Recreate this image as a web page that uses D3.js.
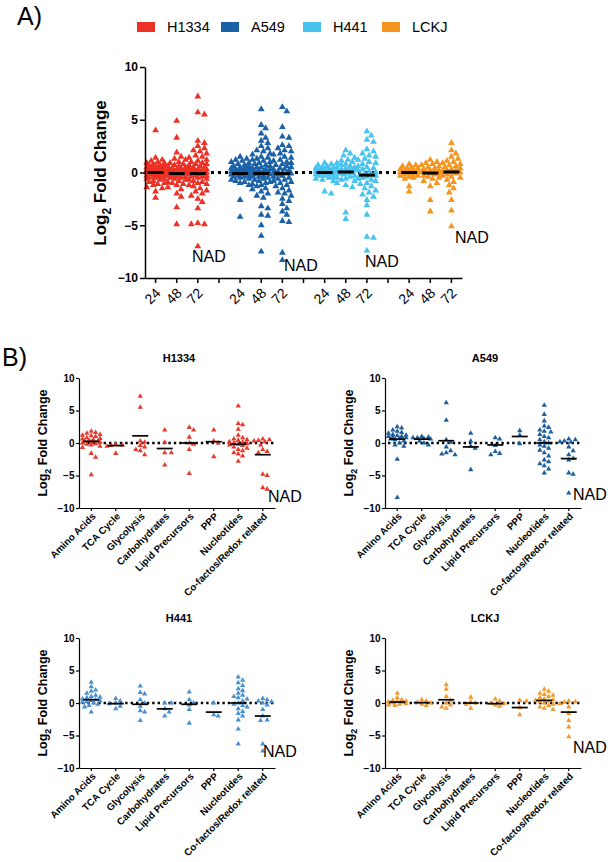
<!DOCTYPE html>
<html><head><meta charset="utf-8">
<script src="https://cdn.jsdelivr.net/npm/d3@7"></script>
<style>body{margin:0;background:#fff} svg{font-family:"Liberation Sans",Arial,Helvetica,sans-serif}</style>
</head><body>
<svg id="c" width="611" height="862"></svg>
<script>
// ---------------- DATA ----------------
const cellLines = ["H1334","A549","H441","LCKJ"];
const timepoints = ["24","48","72"];
const colorsA = ["#ed3124","#1a61a8","#47c3ee","#f5951f"];
const colorsB = ["#e8392b","#1b5e9b","#4a90cf","#f29a2e"];
const yTicks = [10,5,0,-5,-10];
const categories = ["Amino Acids","TCA Cycle","Glycolysis","Carbohydrates","Lipid Precursors","PPP","Nucleotides","Co-factos/Redox related"];

// Panel A: log2 fold change per metabolite, per cell line and time point (h)
const h1334_24 = [4.0,1.4,1.2,1.1,1.0,0.9,0.9,0.8,0.7,0.7,0.6,0.6,0.5,0.5,0.5,0.4,0.4,0.3,0.3,0.3,0.2,0.2,0.2,0.2,0.1,0.1,0.1,0.1,0.0,0.0,0.0,0.0,0.0,-0.1,-0.1,-0.1,-0.1,-0.2,-0.2,-0.2,-0.3,-0.3,-0.3,-0.4,-0.4,-0.5,-0.5,-0.6,-0.6,-0.7,-0.8,-0.9,-1.0,-1.1,-1.2,-1.4,-1.5,-1.8,-2.4];
const h1334_48 = [4.9,3.3,1.9,1.5,1.3,1.2,1.0,0.9,0.8,0.7,0.6,0.6,0.5,0.4,0.4,0.3,0.3,0.2,0.2,0.1,0.1,0.1,0.0,0.0,0.0,-0.1,-0.1,-0.1,-0.2,-0.2,-0.2,-0.3,-0.3,-0.4,-0.4,-0.5,-0.5,-0.6,-0.7,-0.8,-0.9,-1.0,-1.1,-1.2,-1.4,-1.6,-2.0,-2.3,-3.3,-4.9];
const h1334_72 = [7.2,5.7,5.5,3.0,2.8,2.5,2.3,2.1,2.0,1.8,1.6,1.5,1.4,1.2,1.1,1.0,0.9,0.8,0.8,0.7,0.6,0.5,0.5,0.4,0.3,0.3,0.2,0.2,0.1,0.1,0.0,0.0,0.0,-0.1,-0.1,-0.1,-0.2,-0.2,-0.3,-0.3,-0.4,-0.4,-0.5,-0.6,-0.7,-0.8,-0.9,-1.0,-1.1,-1.2,-1.3,-1.5,-1.7,-1.8,-2.0,-2.2,-2.5,-2.8,-3.4,-4.8,-4.9,-4.9,-7.0];
const a549_24 = [1.5,1.3,1.2,1.1,1.0,0.9,0.8,0.7,0.6,0.6,0.5,0.4,0.4,0.3,0.3,0.2,0.2,0.1,0.1,0.1,0.0,0.0,0.0,-0.1,-0.1,-0.1,-0.2,-0.2,-0.3,-0.3,-0.4,-0.4,-0.5,-0.6,-0.7,-0.8,-0.9,-1.0,-1.2,-2.6,-4.2];
const a549_48 = [6.0,4.5,4.2,3.7,3.3,3.0,2.8,2.5,2.3,2.1,2.0,1.8,1.7,1.5,1.4,1.3,1.2,1.1,1.0,0.9,0.8,0.7,0.6,0.5,0.5,0.4,0.3,0.3,0.2,0.1,0.1,0.0,0.0,0.0,-0.1,-0.1,-0.2,-0.2,-0.3,-0.4,-0.4,-0.5,-0.6,-0.7,-0.8,-0.9,-1.0,-1.1,-1.2,-1.3,-1.5,-1.6,-1.8,-2.0,-2.2,-2.4,-3.2,-3.4,-4.0,-4.1,-5.0,-6.0,-7.5];
const a549_72 = [6.2,5.8,4.3,3.4,3.3,2.6,2.5,2.3,2.1,2.0,1.8,1.7,1.5,1.4,1.2,1.1,1.0,0.9,0.8,0.7,0.6,0.5,0.4,0.3,0.3,0.2,0.1,0.0,0.0,-0.1,-0.1,-0.2,-0.3,-0.4,-0.5,-0.6,-0.7,-0.8,-0.9,-1.0,-1.2,-1.3,-1.5,-1.7,-1.9,-2.0,-2.2,-2.5,-2.7,-3.0,-3.4,-3.7,-4.0,-4.6,-4.7,-7.6,-8.3];
const h441_24 = [0.9,0.8,0.7,0.6,0.5,0.5,0.4,0.4,0.3,0.3,0.2,0.2,0.1,0.1,0.1,0.0,0.0,0.0,0.0,-0.1,-0.1,-0.1,-0.2,-0.2,-0.3,-0.3,-0.4,-0.5,-0.6,-0.7,-0.8,-1.8,-2.0];
const h441_48 = [2.1,1.8,1.6,1.4,1.2,1.1,1.0,0.9,0.8,0.7,0.6,0.5,0.5,0.4,0.3,0.3,0.2,0.1,0.1,0.0,0.0,0.0,-0.1,-0.1,-0.2,-0.3,-0.4,-0.5,-0.6,-0.7,-0.8,-1.0,-1.2,-1.4,-3.8,-4.4];
const h441_72 = [3.9,3.5,3.1,2.9,2.2,2.0,1.8,1.6,1.5,1.3,1.2,1.0,0.9,0.8,0.6,0.5,0.4,0.3,0.2,0.1,0.0,-0.1,-0.2,-0.2,-0.3,-0.4,-0.5,-0.6,-0.7,-0.8,-1.0,-1.1,-1.3,-1.5,-1.7,-1.9,-2.1,-2.3,-2.6,-3.1,-4.0,-6.1,-6.2,-7.4];
const lckj_24 = [0.8,0.7,0.6,0.5,0.4,0.4,0.3,0.3,0.2,0.2,0.1,0.1,0.0,0.0,0.0,-0.1,-0.1,-0.2,-0.2,-0.3,-0.3,-0.4,-0.5,-0.6,-1.3,-1.8];
const lckj_48 = [1.2,1.0,0.9,0.8,0.7,0.6,0.5,0.4,0.3,0.2,0.2,0.1,0.0,0.0,-0.1,-0.1,-0.2,-0.3,-0.4,-0.5,-0.6,-0.8,-1.0,-1.3,-2.6,-3.7];
const lckj_72 = [2.8,2.1,1.8,1.5,1.3,1.1,1.0,0.9,0.8,0.7,0.6,0.5,0.4,0.3,0.2,0.2,0.1,0.0,0.0,-0.1,-0.2,-0.3,-0.4,-0.5,-0.7,-0.9,-1.2,-1.5,-1.9,-2.6,-3.6,-5.1];
const mediansA = [[0,-0.1,-0.1],[-0.1,-0.1,-0.1],[0,0.05,-0.25],[0,-0.05,0.05]];

// Panel B: per metabolite class
const h1334ByClass = [
  [1.8,1.6,1.5,1.3,1.2,1.1,1.0,0.8,0.7,0.6,0.5,0.4,0.3,0.3,0.2,0.1,0.0,-0.1,-0.2,-0.3,-0.5,-0.7,-1.6,-2.2,-4.9],
  [-0.2,-0.3,-0.4,-0.5,-1.6],
  [7.2,5.5,0.3,0.1,-0.4,-0.6,-1.0,-1.2,-1.8],
  [2.0,0.1,-1.5,-1.5,-3.4],
  [2.4,2.0,0.9,0.0,-0.2,-1.0,-4.7],
  [2.0,0.3,0.0,-2.1],
  [5.7,3.0,2.8,2.1,1.2,0.8,0.6,0.5,0.4,0.2,0.1,0.0,-0.1,-0.2,-0.3,-0.4,-0.6,-0.8,-1.0,-1.2,-1.5,-1.7,-2.0,-2.8],
  [0.6,0.5,0.4,0.3,0.2,-0.3,-1.0,-1.3,-1.5,-4.8,-5.0,-6.9,-7.1]
];
const a549ByClass = [
  [2.5,2.3,2.0,1.8,1.6,1.5,1.3,1.2,1.1,1.0,1.0,0.9,0.8,0.7,0.6,0.5,0.3,0.0,-0.3,-0.5,-2.5,-8.4],
  [1.0,0.9,0.8,0.8,0.7,0.6,0.3,0.0,-0.3],
  [6.2,3.5,0.5,0.1,-0.6,-1.2,-1.5,-1.7,-1.8],
  [1.5,0.3,-0.5,-0.8,-4.1],
  [0.8,0.6,-0.4,-1.3,-1.6,-1.8],
  [1.9,1.2,-0.1],
  [5.8,4.4,3.4,2.6,2.4,2.0,1.8,1.7,1.3,1.0,0.8,0.5,0.2,0.0,-0.3,-0.5,-0.8,-1.1,-1.5,-2.0,-2.6,-2.9,-3.2,-3.5,-4.0,-4.6],
  [0.6,0.5,0.3,0.2,0.1,-0.6,-1.2,-1.8,-2.4,-2.6,-4.6,-4.8,-7.7]
];
const h441ByClass = [
  [3.2,2.5,2.0,1.8,1.5,1.2,1.0,0.9,0.8,0.6,0.5,0.4,0.3,0.2,0.1,0.0,-0.2,-0.4,-0.6,-1.4],
  [0.7,0.3,0.0,-0.1,-0.5,-0.9],
  [2.6,1.6,1.4,0.5,0.0,-0.5,-1.2,-1.4,-2.7],
  [0.0,0.0,-0.9,-1.4,-2.0],
  [1.7,0.5,0.0,-0.3,-1.0,-3.1],
  [0.0,-1.8,-2.0],
  [4.0,3.5,3.1,2.7,2.2,1.9,1.5,1.2,1.0,0.8,0.6,0.3,0.0,-0.2,-0.4,-0.6,-0.9,-1.3,-1.6,-2.0,-2.6,-4.0,-6.3],
  [0.7,0.5,0.3,0.2,0.0,-0.3,-1.0,-2.0,-2.6,-2.7,-6.3,-7.4]
];
const lckjByClass = [
  [1.5,0.8,0.5,0.4,0.3,0.2,0.2,0.1,0.0,-0.1,-0.2,-0.3,-0.4],
  [0.5,0.3,0.1,0.0,-0.2,-0.4],
  [2.8,2.1,1.0,0.4,0.0,-0.3,-0.6,-0.8],
  [0.9,0.2,0.0,-0.2,-0.8],
  [0.6,0.3,0.0,-0.1,-0.3,-0.5],
  [0.4,0.3,-0.7,-1.8],
  [2.1,1.8,1.5,1.3,1.2,1.0,0.8,0.6,0.5,0.4,0.3,0.2,0.0,-0.2,-0.4,-0.6,-0.8,-1.0],
  [0.3,0.2,0.1,-0.1,-0.6,-1.6,-2.7,-3.7,-5.2]
];
const mediansB = [
  [0.25,-0.4,1.1,-0.85,0.0,0.2,-0.2,-1.8],
  [0.6,0.6,0.35,-0.6,-0.3,1.0,0.0,-2.4],
  [0.5,-0.1,-0.2,-0.9,-0.2,-1.4,0.0,-2.0],
  [0.15,0.05,0.5,0.0,-0.1,-0.7,0.4,-1.4]
];
const labelText = "NAD";

// ---------------- HELPERS ----------------
const svg = d3.select("#c");

function swarm(values, y, cx, step, minD, maxOff){
  const sorted = values.slice().sort((a,b)=>b-a);
  const placed = [];
  sorted.forEach(v=>{
    const py = y(v);
    let best = null, bestD = -1;
    for(let k=0; k*step<=maxOff; k++){
      const offs = k===0 ? [0] : [k*step, -k*step];
      let done=false;
      for(const o of offs){
        let md = Infinity;
        for(const p of placed){ const d = Math.hypot(p.x-(cx+o), p.y-py); if(d<md) md=d; }
        if(md>=minD){ best=o; bestD=md; done=true; break; }
        if(md>bestD){ bestD=md; best=o; }
      }
      if(done) break;
    }
    placed.push({x:cx+best, y:py, v});
  });
  return placed;
}

function yLabel(g, x, y, size, subSize){
  const t = g.append("text").attr("transform",`translate(${x},${y}) rotate(-90)`)
    .attr("text-anchor","middle").attr("font-weight","bold").attr("font-size",size);
  t.append("tspan").text("Log");
  t.append("tspan").attr("font-size",subSize).attr("dy",size*0.3).text("2");
  t.append("tspan").attr("dy",-size*0.3).text(" Fold Change");
}

// ---------------- PANEL A ----------------
svg.append("text").attr("x",17).attr("y",25).attr("font-size",25).text("A)");

const legX = [137,221,303,382];
cellLines.forEach((c,i)=>{
  svg.append("rect").attr("x",legX[i]).attr("y",22).attr("width",18).attr("height",10).attr("fill",colorsA[i]);
  svg.append("text").attr("x",legX[i]+30).attr("y",32).attr("font-size",14.5).text(c);
});

const groupsA = [[h1334_24,h1334_48,h1334_72],[a549_24,a549_48,a549_72],[h441_24,h441_48,h441_72],[lckj_24,lckj_48,lckj_72]];
const slots = [];
cellLines.forEach((c,i)=>{ timepoints.forEach(t=>slots.push(c+"_"+t)); if(i<3) slots.push("gap"+i); });
const xA = d3.scaleBand().domain(slots).range([145,462]);
const yA = d3.scaleLinear().domain([-10,10]).range([278,67]);

const gA = svg.append("g");
gA.append("line").attr("x1",148).attr("x2",462).attr("y1",yA(0)).attr("y2",yA(0))
  .attr("stroke","#000").attr("stroke-width",3).attr("stroke-dasharray","3,4");

const triA = d3.symbol(d3.symbolTriangle, 20)();
groupsA.forEach((grp,i)=>{
  grp.forEach((vals,j)=>{
    const key = cellLines[i]+"_"+timepoints[j];
    const cx = xA(key)+xA.bandwidth()/2;
    const pts = swarm(vals, yA, cx, 2.2, 5, 9);
    gA.append("g").selectAll("path").data(pts).join("path")
      .attr("d",triA).attr("transform",d=>`translate(${d.x},${d.y})`).attr("fill",colorsA[i]);
    gA.append("line").attr("x1",cx-8).attr("x2",cx+8).attr("y1",yA(mediansA[i][j])).attr("y2",yA(mediansA[i][j]))
      .attr("stroke","#000").attr("stroke-width",3);
  });
});
const nadA = [[192,262],[284,271],[365,267],[455,243]];
nadA.forEach(p=>gA.append("text").attr("x",p[0]).attr("y",p[1]).attr("font-size",16).text(labelText));

const axYA = gA.append("g").attr("transform","translate(145,0)")
  .call(d3.axisLeft(yA).tickValues(yTicks).tickSize(5).tickSizeOuter(0).tickPadding(2));
axYA.selectAll("text").attr("font-weight","bold").attr("font-size",12).attr("font-family","inherit");
axYA.selectAll("line,path").attr("stroke-width",1.5);
const axXA = gA.append("g").attr("transform","translate(0,278)")
  .call(d3.axisBottom(xA).tickSize(5).tickSizeOuter(0).tickFormat(d=>d.startsWith("gap")?"":d.split("_")[1]));
axXA.selectAll("line,path").attr("stroke-width",1.5);
axXA.selectAll("text").attr("font-size",14).attr("font-family","inherit")
  .attr("text-anchor","end").attr("dy",0).attr("y",0)
  .attr("transform","translate(6,16) rotate(-45)");
yLabel(gA, 106, 173, 17, 12);

// ---------------- PANEL B ----------------
svg.append("text").attr("x",2).attr("y",366).attr("font-size",25).text("B)");
const byClass = [h1334ByClass,a549ByClass,h441ByClass,lckjByClass];
const panelPos = [[79,378,362],[385,378,362],[79,638,622],[385,638,622]];
const nadB = [[268,502],[573,500],[263,757],[573,753]];
const triB = d3.symbol(d3.symbolTriangle, 12)();

byClass.forEach((cls,i)=>{
  const [ax,top,tb] = panelPos[i];
  const g = svg.append("g");
  const x = d3.scaleBand().domain(categories).range([ax,ax+196]);
  const y = d3.scaleLinear().domain([-10,10]).range([top+130,top]);
  g.append("text").attr("x",ax+100).attr("y",tb).attr("text-anchor","middle")
    .attr("font-weight","bold").attr("font-size",11).text(cellLines[i]);
  g.append("line").attr("x1",ax+3).attr("x2",ax+196).attr("y1",y(0)).attr("y2",y(0))
    .attr("stroke","#000").attr("stroke-width",2.4).attr("stroke-dasharray","2.4,3");
  cls.forEach((vals,j)=>{
    const cx = x(categories[j])+x.bandwidth()/2;
    const pts = swarm(vals, y, cx, 2.2, 4.5, 10);
    g.append("g").selectAll("path").data(pts).join("path")
      .attr("d",triB).attr("transform",d=>`translate(${d.x},${d.y})`).attr("fill",colorsB[i]);
    g.append("line").attr("x1",cx-8).attr("x2",cx+8).attr("y1",y(mediansB[i][j])).attr("y2",y(mediansB[i][j]))
      .attr("stroke","#000").attr("stroke-width",1.7);
  });
  const axY = g.append("g").attr("transform",`translate(${ax},0)`)
    .call(d3.axisLeft(y).tickValues(yTicks).tickSize(3).tickSizeOuter(0).tickPadding(1.5));
  axY.selectAll("text").attr("font-weight","bold").attr("font-size",10).attr("font-family","inherit");
  axY.selectAll("line,path").attr("stroke-width",1.2);
  const axX = g.append("g").attr("transform",`translate(0,${top+130})`)
    .call(d3.axisBottom(x).tickSize(3).tickSizeOuter(0));
  axX.selectAll("line,path").attr("stroke-width",1.2);
  axX.selectAll("text").attr("font-size",9.8).attr("font-weight","bold").attr("font-family","inherit")
    .attr("text-anchor","end").attr("dy",0).attr("y",0)
    .attr("transform","translate(5,9) rotate(-45)");
  yLabel(g, ax-32, top+65, 12.5, 9);
  g.append("text").attr("x",nadB[i][0]).attr("y",nadB[i][1]).attr("font-size",16).text(labelText);
});
</script>
</body></html>
